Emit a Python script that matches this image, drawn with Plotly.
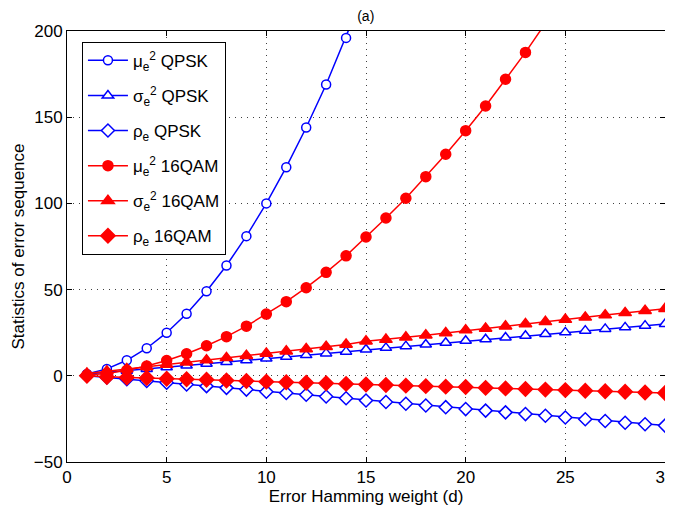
import plotly.graph_objects as go

d_qpsk_mu = list(range(1, 16))
mu2_qpsk = [1, 4, 9, 16, 25, 36, 49, 64, 81, 100, 121, 144, 169, 196, 225]

d_all = list(range(1, 31))
sigma2_qpsk = [1, 2, 3, 4, 5, 6, 7, 8, 9, 10, 11, 12, 13, 14, 15.3, 16.2, 17.2, 18.2, 19.2, 20.3,
               21.2, 22.2, 23.2, 24.2, 25.2, 26.2, 27.2, 28.1, 29.1, 30]
rho_qpsk = [0, -1, -2, -3, -4, -5, -6, -7, -8, -9.2, -10, -11, -12, -13, -14.3, -15.2, -16.2, -17.2,
            -18.2, -19.3, -20.2, -21.2, -22.2, -23.2, -24.2, -25.2, -26.2, -27.2, -28.1, -28.9]

d_qam_mu = list(range(1, 25))
mu2_qam = [0.4, 1.4, 3.2, 5.7, 8.9, 12.8, 17.4, 22.7, 28.8, 35.8, 43, 51.1, 60, 69.6, 80.5,
           91.5, 103, 115.5, 128.5, 142.2, 156.5, 172, 187.6, 204.5]
sigma2_qam = [1.3, 2.6, 3.9, 5.2, 6.5, 7.8, 9.1, 10.4, 11.7, 13, 14.3, 15.6, 16.9, 18.2, 20,
              21, 22.3, 23.5, 24.8, 26.5, 27.5, 28.7, 30, 31.3, 32.6, 33.9, 35.2, 36.5, 37.8, 38.9]
rho_qam = [0, -0.7, -1, -1.3, -1.7, -2, -2.3, -2.7, -3, -3.4, -3.7, -4, -4.3, -4.7, -5, -5.3,
           -5.7, -6, -6.3, -6.5, -7, -7.3, -7.7, -8, -8.3, -8.7, -9, -9.3, -9.7, -10]

labels = ["μ<sub>e</sub><sup>2</sup> QPSK", "σ<sub>e</sub><sup>2</sup> QPSK", "ρ<sub>e</sub> QPSK",
          "μ<sub>e</sub><sup>2</sup> 16QAM", "σ<sub>e</sub><sup>2</sup> 16QAM", "ρ<sub>e</sub> 16QAM"]

BLUE = "rgb(0,0,255)"
RED = "rgb(255,0,0)"

series = [
    (d_qpsk_mu, mu2_qpsk, BLUE, "circle", "white", 9),
    (d_all, sigma2_qpsk, BLUE, "triangle-up", "white", 10),
    (d_all, rho_qpsk, BLUE, "diamond", "white", 10),
    (d_qam_mu, mu2_qam, RED, "circle", RED, 10),
    (d_all, sigma2_qam, RED, "triangle-up", RED, 11),
    (d_all, rho_qam, RED, "diamond", RED, 11),
]

fig = go.Figure()
for i, (x, y, col, sym, fill, sz) in enumerate(series):
    fig.add_trace(go.Scatter(
        x=x, y=y, mode="lines+markers", name=labels[i], legendgroup=f"g{i}",
        line=dict(color=col, width=1.5),
        marker=dict(symbol=sym, size=sz, color=fill, line=dict(color=col, width=1.5)),
    ))

FONT = "Liberation Sans, Arial, Helvetica"

axis_common = dict(
    showgrid=True, gridcolor="rgba(0,0,0,0.75)", griddash="1px,5px", gridwidth=1,
    zeroline=False, showline=True, linecolor="black", linewidth=1,
    mirror="allticks", ticks="inside", ticklen=5, tickcolor="black",
    automargin=False, ticklabeloverflow="allow",
    tickfont=dict(family=FONT, size=17, color="black"),
)

fig.update_layout(
    width=665, height=501,
    margin=dict(l=59, r=8, t=23, b=47),
    plot_bgcolor="white", paper_bgcolor="white",
    font=dict(family=FONT, size=17, color="black"),
    title=dict(text="(a)", x=0.538, xanchor="center", y=0.983, yanchor="middle",
               font=dict(size=14)),
    xaxis=dict(range=[0, 30], tickvals=[0, 5, 10, 15, 20, 25, 30],
               title=dict(text="Error Hamming weight (d)", standoff=2,
                          font=dict(size=17)), **axis_common),
    yaxis=dict(range=[-50, 200], tickvals=[-50, 0, 50, 100, 150, 200],
               title=dict(text="Statistics of error sequence", standoff=4,
                          font=dict(size=17)), **axis_common),
    legend=dict(x=0.025, y=0.975, xanchor="left", yanchor="top",
                bgcolor="white", bordercolor="black", borderwidth=1,
                font=dict(size=17), tracegroupgap=10, itemwidth=40),
    showlegend=True,
)

fig.write_html("out.html")
